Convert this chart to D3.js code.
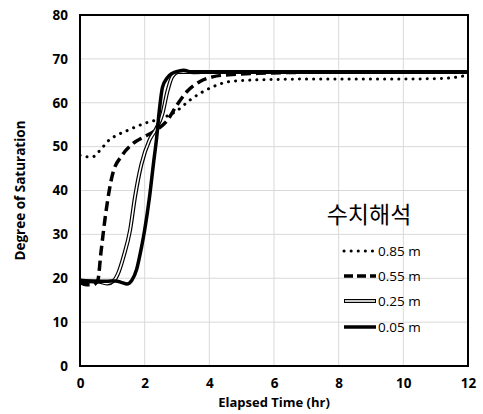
<!DOCTYPE html>
<html><head><meta charset="utf-8">
<script src="https://cdn.jsdelivr.net/npm/d3@7"></script>
<style>body{margin:0;background:#fff}</style>
</head><body><svg id="c" width="483" height="414"></svg>
<script>
const xTicks = [0,2,4,6,8,10,12];
const yTicks = [0,10,20,30,40,50,60,70,80];
const legendTitle = "수치해석";
const seriesNames = ["0.85 m","0.55 m","0.25 m","0.05 m"];

const t085 = [0,0.2,0.4,0.6,0.9,1.2,1.5,2.0,2.5,3.0,3.4,3.75,4.1,4.6,5.1,6,7,8,9,10,11,11.5,12];
const s085 = [48,47.7,47.7,49,51.5,52.8,53.8,55.3,56.4,58.2,60.6,62.3,63.6,64.8,65.1,65.3,65.4,65.4,65.4,65.4,65.5,65.7,66.3];

const t055 = [0,0.2,0.4,0.55,0.65,0.8,1.0,1.3,1.6,2.0,2.3,2.7,3.0,3.3,3.7,4.1,4.6,5.5,6.5,8,10,12];
const s055 = [19,18.5,18.5,19.5,26,35,43.5,48,50.5,52.3,53.5,56,59.5,62.5,64.8,65.9,66.4,66.7,66.9,67,67,67];

const t025 = [0,0.3,0.6,0.85,1.05,1.2,1.35,1.55,1.7,1.9,2.15,2.35,2.55,2.7,2.85,3.05,3.3,4,6,8,10,12];
const s025 = [19.5,19.3,19.2,18.8,19.5,21.5,25,31,38.5,46,51.5,54,57.5,62.5,65.9,67,67,67,67,67,67,67];

const t005 = [0,0.4,0.8,1.1,1.3,1.45,1.6,1.75,1.9,2.0,2.15,2.27,2.37,2.45,2.55,2.7,2.85,3.05,3.2,3.5,4,6,8,10,12];
const s005 = [19.5,19.3,19.3,19.4,19,18.7,19.5,22,27,31,38.5,46,52,58,63.5,65.7,66.7,67.2,67.4,66.9,67,67,67,67,67];

const svg = d3.select("#c");
const L=80,R=468,T=15,B=366;
const x = d3.scaleLinear().domain([0,12]).range([L,R]);
const y = d3.scaleLinear().domain([0,80]).range([B,T]);
const font = "'Open Sans','Noto Sans',sans-serif";

// grid
svg.append("g").selectAll("line.gx").data(xTicks).join("line")
  .attr("x1",d=>x(d)).attr("x2",d=>x(d)).attr("y1",T).attr("y2",B)
  .attr("stroke","#d9d9d9").attr("stroke-width",1);
svg.append("g").selectAll("line.gy").data(yTicks).join("line")
  .attr("x1",L).attr("x2",R).attr("y1",d=>y(d)).attr("y2",d=>y(d))
  .attr("stroke","#d9d9d9").attr("stroke-width",1);

// axes
const xa = svg.append("g").attr("transform",`translate(0,${B})`)
  .call(d3.axisBottom(x).tickValues(xTicks).tickSize(0).tickPadding(12));
const ya = svg.append("g").attr("transform",`translate(${L},0)`)
  .call(d3.axisLeft(y).tickValues(yTicks).tickSize(0).tickPadding(12));
[xa,ya].forEach(a=>{a.select(".domain").remove();
  a.selectAll("text").attr("font-family",font).attr("font-size",13.5).attr("font-weight","bold").attr("fill","#000");});

const line = d3.line().x(d=>x(d[0])).y(d=>y(d[1])).curve(d3.curveMonotoneX);
const zip = (a,b)=>a.map((v,i)=>[v,b[i]]);
svg.append("clipPath").attr("id","cp").append("rect").attr("x",L).attr("y",T).attr("width",R-L).attr("height",B-T);
const g = svg.append("g").attr("clip-path","url(#cp)");

g.append("path").attr("d",line(zip(t085,s085))).attr("fill","none").attr("stroke","#000")
  .attr("stroke-width",3).attr("stroke-dasharray","0.1,7").attr("stroke-linecap","round");
g.append("path").attr("d",line(zip(t055,s055))).attr("fill","none").attr("stroke","#000")
  .attr("stroke-width",3.5).attr("stroke-dasharray","10,5");
g.append("path").attr("d",line(zip(t025,s025))).attr("fill","none").attr("stroke","#000").attr("stroke-width",4);
g.append("path").attr("d",line(zip(t025,s025))).attr("fill","none").attr("stroke","#fff").attr("stroke-width",1.6);
g.append("path").attr("d",line(zip(t005,s005))).attr("fill","none").attr("stroke","#000").attr("stroke-width",3.5);

// frame
svg.append("rect").attr("x",L).attr("y",T).attr("width",R-L).attr("height",B-T)
  .attr("fill","none").attr("stroke","#000").attr("stroke-width",2);

// axis titles
svg.append("text").attr("x",(L+R)/2).attr("y",407).attr("text-anchor","middle")
  .attr("font-family",font).attr("font-size",13).attr("font-weight","bold").text("Elapsed Time (hr)");
svg.append("text").attr("transform",`translate(25,${(T+B)/2}) rotate(-90)`).attr("text-anchor","middle")
  .attr("font-family",font).attr("font-size",13.5).attr("font-weight","bold").text("Degree of Saturation");

// legend
const lg = svg.append("g");
lg.append("text").attr("x",369).attr("y",223).attr("text-anchor","middle")
  .attr("font-family","'Noto Sans CJK KR',sans-serif").attr("font-size",23).text(legendTitle);
const ly = [251,276,301,327];
const styles = [
  {w:3,da:"0.1,7",cap:"round"},
  {w:3.5,da:"9,4",cap:"butt"},
  {w:4,da:null,cap:"butt",inner:true},
  {w:3.5,da:null,cap:"butt"}];
seriesNames.forEach((n,i)=>{
  const s = styles[i];
  const p = lg.append("line").attr("x1",344).attr("x2",376).attr("y1",ly[i]).attr("y2",ly[i])
    .attr("stroke","#000").attr("stroke-width",s.w).attr("stroke-linecap",s.cap);
  if(s.da) p.attr("stroke-dasharray",s.da);
  if(s.inner) lg.append("line").attr("x1",345).attr("x2",375).attr("y1",ly[i]).attr("y2",ly[i])
    .attr("stroke","#fff").attr("stroke-width",1.6);
  lg.append("text").attr("x",378).attr("y",ly[i]+5).attr("font-family",font).attr("font-size",13.5).text(n);
});
</script></body></html>
